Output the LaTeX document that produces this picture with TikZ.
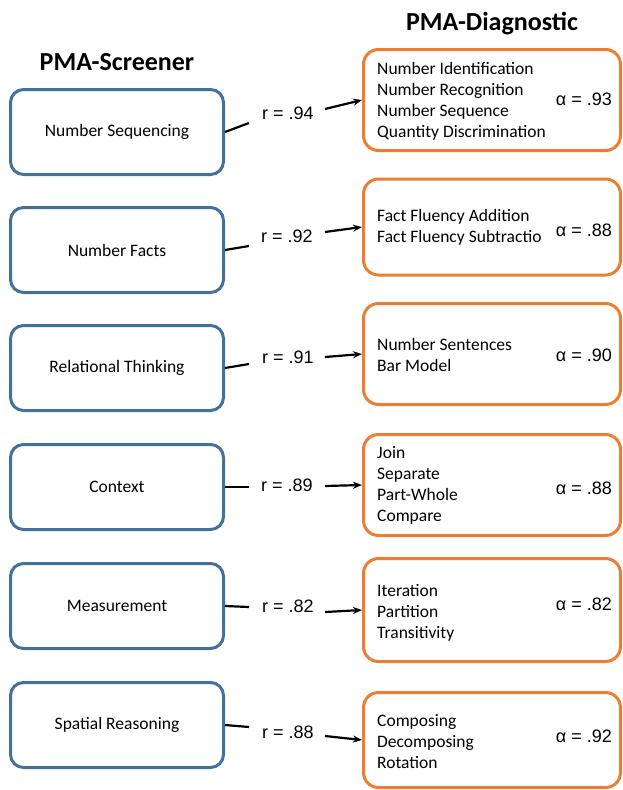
\documentclass[tikz,border=0pt]{standalone}
\usepackage{fontspec}
\usepackage{xcolor}
\usepackage{tikz}
\usetikzlibrary{arrows.meta}
\newfontfamily\calib{Carlito}
\newfontfamily\arialf{Liberation Sans}
\definecolor{scrblue}{RGB}{65,113,156}
\definecolor{diaorange}{RGB}{237,125,49}
\tikzset{
 scrbox/.style={draw=scrblue,line width=3pt,rounded corners=13pt,minimum width=213pt,minimum height=85pt,font=\calib\fontsize{17.5}{21}\selectfont},
 diabox/.style={draw=diaorange,line width=3pt,rounded corners=15pt,minimum width=257pt,minimum height=#1},
 diabox/.default=101pt,
 items/.style={anchor=west,align=left,inner sep=0pt,font=\calib\fontsize{17.5}{21}\selectfont},
 coef/.style={inner sep=0pt,font=\arialf\fontsize{18}{21}\selectfont},
 alphalbl/.style={anchor=east,inner sep=0pt,font=\arialf\fontsize{18}{21}\selectfont},
 link/.style={line width=2.2pt},
 ttl/.style={font=\calib\bfseries\fontsize{26}{30}\selectfont}
}
\begin{document}
\begin{tikzpicture}[x=1pt,y=-1pt]
\useasboundingbox (0,0) rectangle (623,790);
\node[ttl] (ttlS) at (117,62) {PMA-Screener};
\node[ttl] (ttlD) at (492,24) {PMA-Diagnostic};

\node[scrbox] (s1) at (117,132) {Number Sequencing};
\node[diabox=101pt] (d1) at (492,100) {};
\node[items] (t1) at (377,101) {Number Identification\\Number Recognition\\Number Sequence\\Quantity Discrimination};
\node[alphalbl] (al1) at (612,99) {α = .93};
\node[coef] (r1) at (288,113) {r = .94};
\coordinate (a1) at (249,123);\coordinate (b1) at (325,109);
\draw[link](s1.east)--(a1);\draw[link,-{Stealth[length=9pt,width=7pt]}](b1)--(d1.west);

\node[scrbox] (s2) at (117,250) {Number Facts};
\node[diabox=96pt] (d2) at (492,227) {};
\node[items] (t2) at (377,227.5) {Fact Fluency Addition\\Fact Fluency Subtractio};
\node[alphalbl] (al2) at (612,230) {α = .88};
\node[coef] (r2) at (287,236) {r = .92};
\coordinate (a2) at (249,246);\coordinate (b2) at (325,232);
\draw[link](s2.east)--(a2);\draw[link,-{Stealth[length=9pt,width=7pt]}](b2)--(d2.west);

\node[scrbox] (s3) at (117,368) {Relational Thinking};
\node[diabox] (d3) at (492,354) {};
\node[items] (t3) at (377,354.5) {Number Sentences\\Bar Model};
\node[alphalbl] (al3) at (612,355) {α = .90};
\node[coef] (r3) at (288,357) {r = .91};
\coordinate (a3) at (249,364);\coordinate (b3) at (325,357);
\draw[link](s3.east)--(a3);\draw[link,-{Stealth[length=9pt,width=7pt]}](b3)--(d3.west);

\node[scrbox] (s4) at (117,487) {Context};
\node[diabox] (d4) at (492,485) {};
\node[items] (t4) at (377,485) {Join\\Separate\\Part-Whole\\Compare};
\node[alphalbl] (al4) at (612,488) {α = .88};
\node[coef] (r4) at (287,485) {r = .89};
\coordinate (a4) at (249,487);\coordinate (b4) at (325,486);
\draw[link](s4.east)--(a4);\draw[link,-{Stealth[length=9pt,width=7pt]}](b4)--(d4.west);

\node[scrbox] (s5) at (117,606) {Measurement};
\node[diabox=103pt] (d5) at (492,610) {};
\node[items] (t5) at (377,613) {Iteration\\Partition\\Transitivity};
\node[alphalbl] (al5) at (612,604) {α = .82};
\node[coef] (r5) at (288,606) {r = .82};
\coordinate (a5) at (249,607);\coordinate (b5) at (325,612);
\draw[link](s5.east)--(a5);\draw[link,-{Stealth[length=9pt,width=7pt]}](b5)--(d5.west);

\node[scrbox] (s6) at (117,725) {Spatial Reasoning};
\node[diabox=95pt] (d6) at (492,740) {};
\node[items] (t6) at (377,742) {Composing\\Decomposing\\Rotation};
\node[alphalbl] (al6) at (612,736) {α = .92};
\node[coef] (r6) at (288,732) {r = .88};
\coordinate (a6) at (249,727);\coordinate (b6) at (325,736);
\draw[link](s6.east)--(a6);\draw[link,-{Stealth[length=9pt,width=7pt]}](b6)--(d6.west);
\end{tikzpicture}
\end{document}
